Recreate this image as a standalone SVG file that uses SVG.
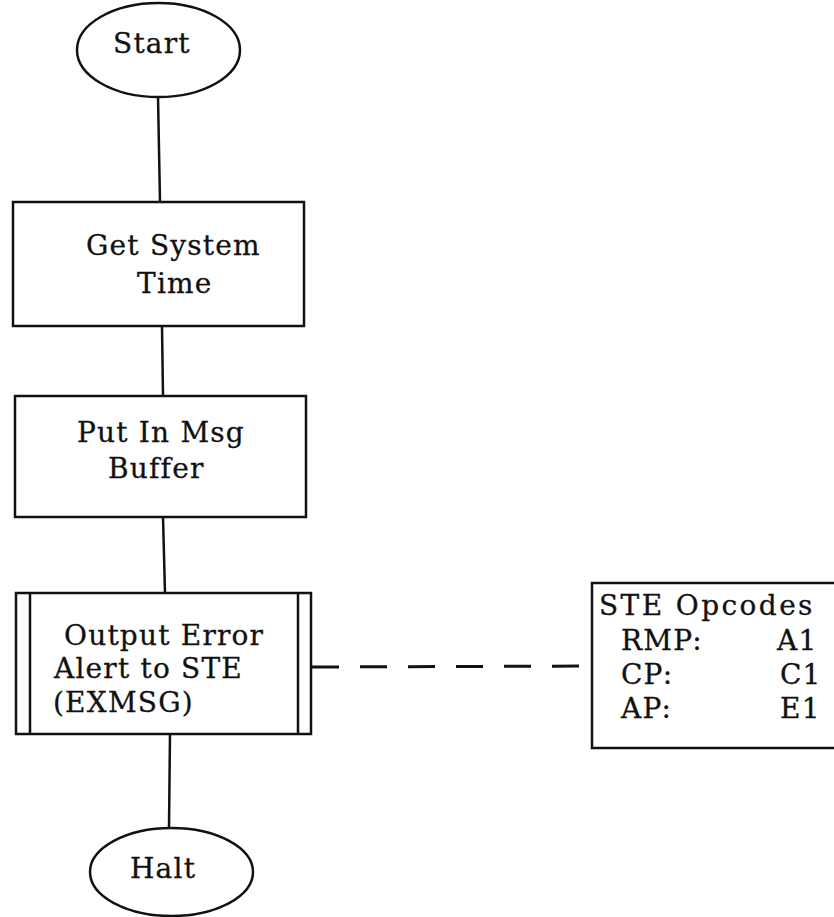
<svg xmlns="http://www.w3.org/2000/svg" width="834" height="917" viewBox="0 0 834 917">
<style>
.s{fill:#fff;stroke:#111;stroke-width:2.5}
.c{fill:none;stroke:#111;stroke-width:2.5}
.d{fill:none;stroke:#111;stroke-width:3;stroke-dasharray:27 21}
text{font-family:"DejaVu Serif","Liberation Serif",serif;font-size:28px;letter-spacing:1.2px;fill:#111;stroke:#111;stroke-width:0.3}
</style>
<rect width="834" height="917" fill="#fff"/>
<g id="connectors">
<line class="c" x1="158" y1="97" x2="160" y2="202"/>
<line class="c" x1="162" y1="326" x2="163" y2="396"/>
<line class="c" x1="163" y1="517" x2="165" y2="593"/>
<line class="c" x1="170" y1="734" x2="169" y2="828"/>
<line class="d" x1="312" y1="667" x2="592" y2="666"/>
</g>
<g id="start">
<ellipse class="s" cx="158.5" cy="50" rx="81.5" ry="47"/>
<text x="113" y="53">Start</text>
</g>
<g id="get-system-time">
<rect class="s" x="13" y="202" width="291" height="124"/>
<text x="86" y="255">Get System</text>
<text x="137" y="293">Time</text>
</g>
<g id="put-in-msg-buffer">
<rect class="s" x="15" y="396" width="291" height="121"/>
<text x="77" y="442">Put In Msg</text>
<text x="108" y="478">Buffer</text>
</g>
<g id="output-error">
<rect class="s" x="16" y="593" width="295" height="141"/>
<line class="c" x1="30" y1="593" x2="30" y2="734"/>
<line class="c" x1="298" y1="593" x2="298" y2="734"/>
<text x="64" y="645">Output Error</text>
<text x="54" y="678">Alert to STE</text>
<text x="53" y="712">(EXMSG)</text>
</g>
<g id="ste-opcodes">
<rect class="s" x="592" y="583" width="250" height="165"/>
<text x="599" y="615" style="letter-spacing:2.4px">STE Opcodes</text>
<text x="621" y="650">RMP:</text>
<text x="777" y="650">A1</text>
<text x="621" y="684">CP:</text>
<text x="780" y="684">C1</text>
<text x="621" y="718">AP:</text>
<text x="780" y="718">E1</text>
</g>
<g id="halt">
<ellipse class="s" cx="171.5" cy="872" rx="81.5" ry="44"/>
<text x="130" y="878">Halt</text>
</g>
</svg>
